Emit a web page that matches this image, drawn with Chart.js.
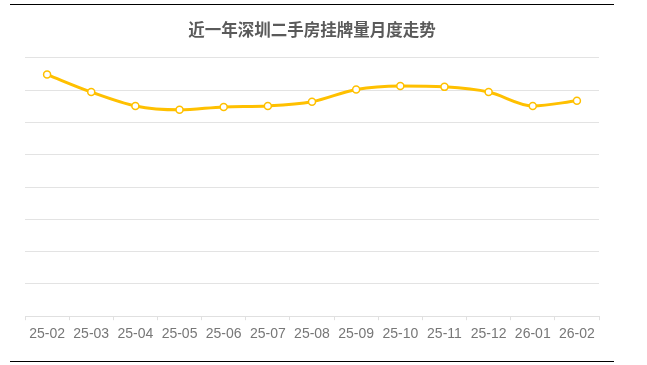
<!DOCTYPE html>
<html>
<head>
<meta charset="utf-8">
<script src="https://cdn.jsdelivr.net/npm/chart.js@4/dist/chart.umd.min.js"></script>
<style>
  html, body { margin: 0; padding: 0; background: #fff; }
  #box {
    position: absolute;
    left: 10px;
    top: 4px;
    width: 604px;
    border-top: 1px solid #000;
    border-bottom: 1px solid #000;
  }
  #wrap { position: relative; width: 604px; height: 356px; }
</style>
</head>
<body>
<div id="box"><div id="wrap"><canvas id="chart-listings"></canvas></div></div>
<script>
var months = ["25-02", "25-03", "25-04", "25-05", "25-06", "25-07", "25-08",
  "25-09", "25-10", "25-11", "25-12", "26-01", "26-02"];
var listings = [74800, 69400, 65100, 63900, 64800, 65100, 66400,
  70200, 71300, 71000, 69400, 65100, 66700];
var yTicks = [0, 10000, 20000, 30000, 40000, 50000, 60000, 70000, 80000];

Chart.defaults.font.family = "'Liberation Sans', Arial, sans-serif";

var listingsOptions = {
  responsive: true,
  maintainAspectRatio: false,
  animation: false,
  layout: {
    padding: { left: 15, right: 15, top: 0, bottom: 12 },
  },
  plugins: {
    legend: { display: false },
    tooltip: { enabled: false },
    title: {
      display: true,
      text: "近一年深圳二手房挂牌量月度走势",
      color: "#5a5a5a",
      font: { size: 16.5, weight: "bold", family: "'Noto Sans CJK SC', sans-serif", lineHeight: 1.2 },
      padding: { top: 15, bottom: 18 },
    },
  },
  scales: {
    y: {
      min: yTicks[0],
      max: yTicks[yTicks.length - 1],
      afterBuildTicks: function (axis) {
        axis.ticks = yTicks.map(function (v) { return { value: v }; });
      },
      ticks: { display: false },
      border: { display: false },
      grid: {
        color: "#e3e3e3",
        drawTicks: false,
      },
    },
    x: {
      offset: true,
      border: { display: true, color: "#e0e0e0" },
      grid: {
        offset: true,
        drawOnChartArea: false,
        drawTicks: true,
        tickLength: 4,
        color: "#e0e0e0",
      },
      ticks: {
        color: "#777",
        font: { size: 14 },
        padding: 6,
        maxRotation: 0,
        autoSkip: false,
      },
    },
  },
};

new Chart("chart-listings", {
  type: "line",
  data: {
    labels: months,
    datasets: [{
      data: listings,
      borderColor: "#FFC000",
      borderWidth: 3,
      tension: 0.4,
      cubicInterpolationMode: "monotone",
      pointRadius: 3.5,
      pointBackgroundColor: "#fff",
      pointBorderColor: "#FFC000",
      pointBorderWidth: 1.5,
      fill: false,
    }],
  },
  options: listingsOptions,
});
</script>
</body>
</html>
